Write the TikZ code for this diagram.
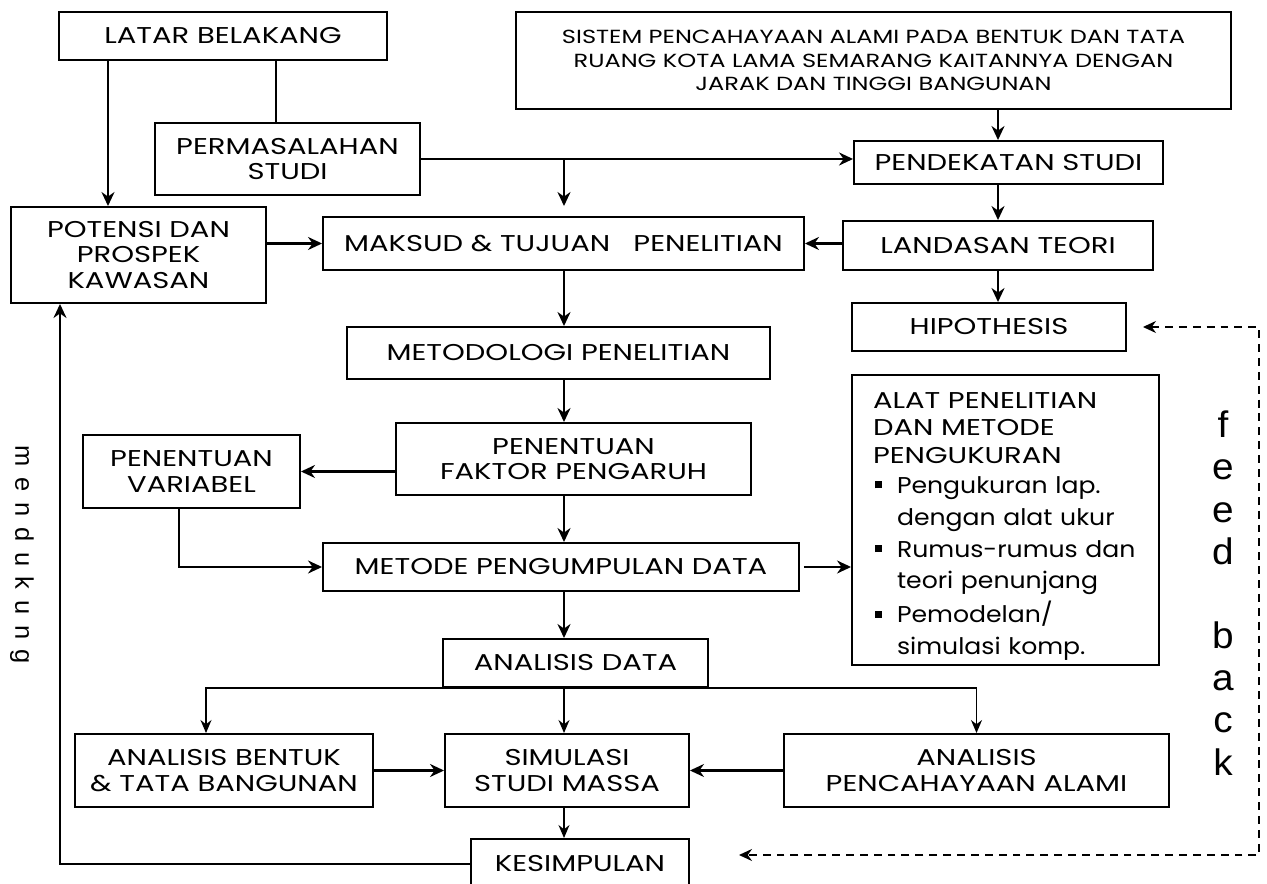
\documentclass[tikz,border=0pt]{standalone}
\usepackage{fontspec}
\setmainfont{Poppins}[FakeStretch=1.27]
\newfontfamily\listf{Poppins}[FakeStretch=1.1]
\newfontfamily\arialf{Liberation Sans}[FakeStretch=1.05]
\newfontfamily\arialw{Liberation Sans}[WordSpace=1.5]
\usetikzlibrary{arrows.meta}
\newcommand{\bul}{\makebox[0.48cm][l]{\hspace{0.04cm}\rule[0.1cm]{0.14cm}{0.14cm}}}
\newcommand{\ind}{\hspace*{0.48cm}}
\newcommand{\lst}[1]{\mbox{\listf\fontsize{13}{15.6}\selectfont #1}}
\tikzset{
  kotak/.style={rectangle, draw, line width=1.1pt, align=center, inner sep=2pt,
                font=\fontsize{13}{14.6}\selectfont},
  ukuran/.style 2 args={minimum width=#1*0.02cm, minimum height=#2*0.02cm},
  garis/.style={line width=1.2pt},
  arr/.style={-{Stealth[length=0.28cm, width=0.26cm]}, line width=1.2pt},
  arrtipis/.style={-{Stealth[length=0.26cm, width=0.22cm]}, line width=0.8pt},
  fb/.style={{Stealth[length=0.26cm, width=0.24cm]}-{Stealth[length=0.26cm, width=0.24cm]},
             dash pattern=on 4.5pt off 3.4pt, line width=0.9pt},
}
\begin{document}
\begin{tikzpicture}[x=0.02cm, y=-0.02cm]
  \useasboundingbox (0,0) rectangle (1267,884);
  \node[kotak, ukuran={328}{48}] (lb) at (223,36) {LATAR BELAKANG};
  \node[kotak, ukuran={265}{72}] (pm) at (287.5,159) {PERMASALAHAN\\STUDI};
  \node[kotak, ukuran={255}{96}] (pk) at (138.5,255) {POTENSI DAN\\PROSPEK\\KAWASAN};
  \node[kotak, ukuran={481}{53}] (mt) at (563.5,243.5) {MAKSUD \& TUJUAN \ \ PENELITIAN};
  \node[kotak, ukuran={715}{97}, font=\fontsize{10.8}{13.3}\selectfont] (ss) at (873.5,60.5)
    {SISTEM PENCAHAYAAN ALAMI PADA BENTUK DAN TATA\\RUANG KOTA LAMA SEMARANG KAITANNYA DENGAN\\JARAK DAN TINGGI BANGUNAN};
  \node[kotak, ukuran={309}{43}] (ps) at (1008.5,162.5) {PENDEKATAN STUDI};
  \node[kotak, ukuran={310}{49}] (lt) at (998,245.5) {LANDASAN TEORI};
  \node[kotak, ukuran={274}{48}] (hp) at (989,327) {HIPOTHESIS};
  \node[kotak, ukuran={307}{290}, text width=5.3cm, inner xsep=0.42cm, align=left,
        font=\fontsize{13}{15.6}\selectfont] (al) at (1005.5,520)
    {\rule{0pt}{0.58cm}ALAT PENELITIAN\\DAN METODE\\PENGUKURAN\\[1.5pt]
     \lst{\bul Pengukuran lap.}\\[2.5pt]
     \lst{\ind dengan alat ukur}\\[2.5pt]
     \lst{\bul Rumus-rumus dan}\\[2.5pt]
     \lst{\ind teori penunjang}\\[2.5pt]
     \lst{\bul Pemodelan/}\\[2.5pt]
     \lst{\ind simulasi komp.}};
  \node[kotak, ukuran={423}{52}] (mp) at (558.5,353) {METODOLOGI PENELITIAN};
  \node[kotak, ukuran={355}{72}] (fp) at (573.5,459) {PENENTUAN\\FAKTOR PENGARUH};
  \node[kotak, ukuran={217}{73}] (pv) at (191.5,471.5) {PENENTUAN\\VARIABEL};
  \node[kotak, ukuran={476}{48}] (pd) at (561,567) {METODE PENGUMPULAN DATA};
  \node[kotak, ukuran={265}{48}] (ad) at (575.5,663) {ANALISIS DATA};
  \node[kotak, ukuran={298}{73}] (ab) at (224,770.5) {ANALISIS BENTUK\\\& TATA BANGUNAN};
  \node[kotak, ukuran={244}{73}] (sm) at (567,770.5) {SIMULASI\\STUDI MASSA};
  \node[kotak, ukuran={385}{73}] (ap) at (976.5,770.5) {ANALISIS\\PENCAHAYAAN ALAMI};
  \node[kotak, ukuran={218}{50}] (ks) at (580,864) {KESIMPULAN};
  \node[font=\arialw\fontsize{14.5}{16}\selectfont, rotate=-90] (md) at (22,555) {m e n d u k u n g};
  \node[font=\arialf\fontsize{21}{24}\selectfont, align=center] (fbk) at (1223,593)
    {f\\e\\e\\d\\[24pt]b\\a\\c\\k};
  \coordinate (k1) at (108,0);
  \coordinate (k2) at (276,0);
  \coordinate (k3) at (564,0);
  \coordinate (k4) at (179,0);
  \coordinate (k5) at (206,0);
  \coordinate (k6) at (60,0);
  \coordinate (k7) at (1259,855);
  \coordinate (k8) at (739,855);
  \draw[arr] (lb.south -| k1) -- (pk.north -| k1);
  \draw[garis] (lb.south -| k2) -- (pm.north -| k2);
  \draw[arr] (pm.east) -- (pm.east -| ps.west);
  \draw[arr, shorten >=0.2cm] (pm.east -| k3) -- (mt.north -| k3);
  \draw[arr] (pk.east |- mt) -- (mt.west);
  \draw[arr] (ss.south -| lt) -- (ps.north -| lt);
  \draw[arr] (ps.south -| lt) -- (lt.north);
  \draw[arr] (lt.west |- mt) -- (mt.east);
  \draw[arr] (lt.south) -- (hp.north -| lt);
  \draw[arr] (mt.south -| k3) -- (mp.north -| k3);
  \draw[arr] (mp.south -| k3) -- (fp.north -| k3);
  \draw[arr] (fp.west |- pv) -- (pv.east);
  \draw[arr] (pv.south -| k4) |- (pd.west);
  \draw[arr] (fp.south -| k3) -- (pd.north -| k3);
  \draw[arr, shorten <=0.08cm] (pd.east) -- (pd.east -| al.west);
  \draw[arr] (pd.south -| k3) -- (ad.north -| k3);
  \draw[arrtipis] (ad.south) -| (ab.north -| k5);
  \draw[arrtipis] (ad.south) -| (ap.north);
  \draw[arrtipis] (ad.south -| k3) -- (sm.north -| k3);
  \draw[arr] (ab.east) -- (sm.west);
  \draw[arr] (ap.west) -- (sm.east);
  \draw[arrtipis] (sm.south -| k3) -- (ks.north -| k3);
  \draw[arr] (ks.west) -| (pk.south -| k6);
  \draw[fb, shorten <=0.32cm] (hp.east) -| (k7) -- (k8);
\end{tikzpicture}
\end{document}
